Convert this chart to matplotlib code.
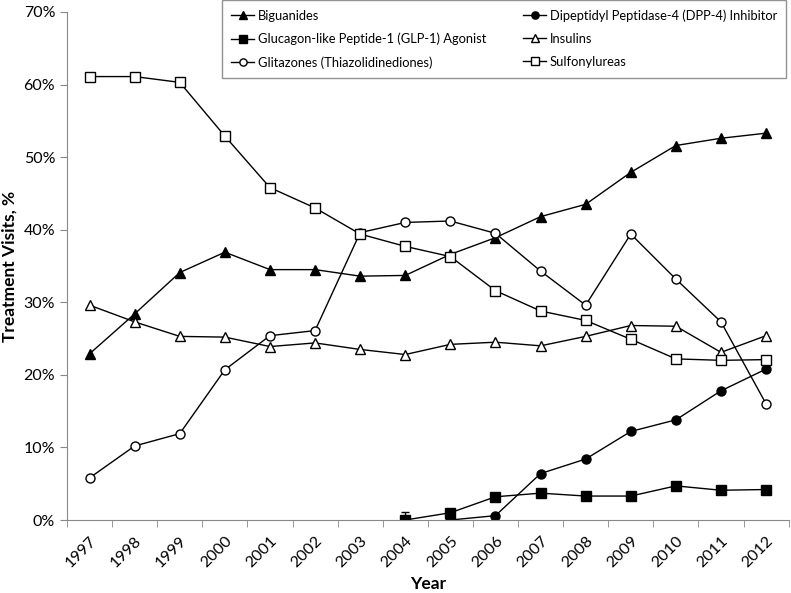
import matplotlib
matplotlib.use("Agg")
import matplotlib.pyplot as plt
import numpy as np
from matplotlib.ticker import FuncFormatter

plt.rcParams['font.family'] = ['Lato', 'DejaVu Sans']

years = [str(y) for y in range(1997, 2013)]

# treatment visits share, %
biguanides = [22.9, 28.4, 34.1, 36.9, 34.5, 34.5, 33.6, 33.7, 36.6, 38.9, 41.8, 43.5, 47.9, 51.6, 52.6, 53.3]
insulins = [29.6, 27.3, 25.3, 25.2, 23.9, 24.4, 23.5, 22.8, 24.2, 24.5, 24.0, 25.3, 26.8, 26.7, 23.1, 25.4]
glitazones = [5.8, 10.2, 11.9, 20.7, 25.4, 26.1, 39.6, 41.0, 41.2, 39.5, 34.3, 29.6, 39.4, 33.2, 27.3, 16.0]
sulfonylureas = [61.1, 61.1, 60.3, 52.9, 45.8, 43.0, 39.4, 37.7, 36.3, 31.6, 28.8, 27.5, 24.9, 22.2, 22.0, 22.1]
dpp4_years = years[8:]
dpp4 = [0.0, 0.6, 6.4, 8.4, 12.2, 13.8, 17.8, 20.8]
glp1_years = years[7:]
glp1 = [0.0, 1.0, 3.2, 3.7, 3.3, 3.3, 4.7, 4.1, 4.2]
glp1_err_up = [1.1, 0, 0, 0, 0, 0, 0, 0, 0]

fig = plt.figure(figsize=(7.91, 5.93), dpi=100)
ax = fig.add_axes([0.0847, 0.1231, 0.9123, 0.8567])

pos = {y: i for i, y in enumerate(years)}
x = np.arange(len(years))
x_dpp = [pos[y] for y in dpp4_years]
x_glp = [pos[y] for y in glp1_years]

ms = 6.5
h_big, = ax.plot(x, biguanides, '-', color='black', lw=1, marker='^', ms=ms, mfc='black', mec='black')
h_dpp, = ax.plot(x_dpp, dpp4, '-', color='black', lw=1, marker='o', ms=ms, mfc='black', mec='black')
ax.errorbar(x_glp, glp1, yerr=[[0] * len(glp1), glp1_err_up], fmt='none', ecolor='black', elinewidth=1, capsize=3)
h_glp, = ax.plot(x_glp, glp1, '-', color='black', lw=1, marker='s', ms=ms, mfc='black', mec='black')
h_ins, = ax.plot(x, insulins, '-', color='black', lw=1, marker='^', ms=ms, mfc='white', mec='black')
h_gli, = ax.plot(x, glitazones, '-', color='black', lw=1, marker='o', ms=ms, mfc='white', mec='black')
h_sul, = ax.plot(x, sulfonylureas, '-', color='black', lw=1, marker='s', ms=ms, mfc='white', mec='black')

ax.set_xlim(-0.5, len(years) - 0.5)
ax.set_ylim(0, 70)
ax.set_yticks(np.arange(0, 71, 10))
ax.yaxis.set_major_formatter(FuncFormatter(lambda v, p: '%d%%' % v))

ax.set_xticks(x)
ax.set_xticklabels(years, rotation=45, ha='right', rotation_mode='anchor')
ax.set_xticks(np.arange(-0.5, len(years), 1), minor=True)
ax.tick_params(axis='x', which='major', length=0, pad=10, labelsize=11.5)
ax.tick_params(axis='x', which='minor', length=5, color='#888888')
ax.tick_params(axis='y', length=5, color='#888888', labelsize=11.5)

for s in ['top', 'right']:
    ax.spines[s].set_visible(False)
for s in ['left', 'bottom']:
    ax.spines[s].set_color('#888888')

ax.set_ylabel('Treatment Visits, %', fontsize=12.5, fontweight='bold')
ax.set_xlabel('Year', fontsize=12.5, fontweight='bold', labelpad=4)

handles = [h_big, h_glp, h_gli, h_dpp, h_ins, h_sul]
labels = ['Biguanides', 'Glucagon-like Peptide-1 (GLP-1) Agonist', 'Glitazones (Thiazolidinediones)',
          'Dipeptidyl Peptidase-4 (DPP-4) Inhibitor', 'Insulins', 'Sulfonylureas']
leg = fig.legend(handles, labels, ncol=2, loc='lower left', mode='expand',
                 bbox_to_anchor=(222 / 791, 1 - 78 / 593, 564 / 791, 76 / 593),
                 frameon=True, fancybox=False, edgecolor='#777777', fontsize=9.3,
                 handlelength=1.8, handletextpad=0.25, borderaxespad=0, borderpad=0.7,
                 labelspacing=0.85, markerscale=0.8)
leg.get_frame().set_linewidth(1)

fig.savefig('out.png', dpi=100)
